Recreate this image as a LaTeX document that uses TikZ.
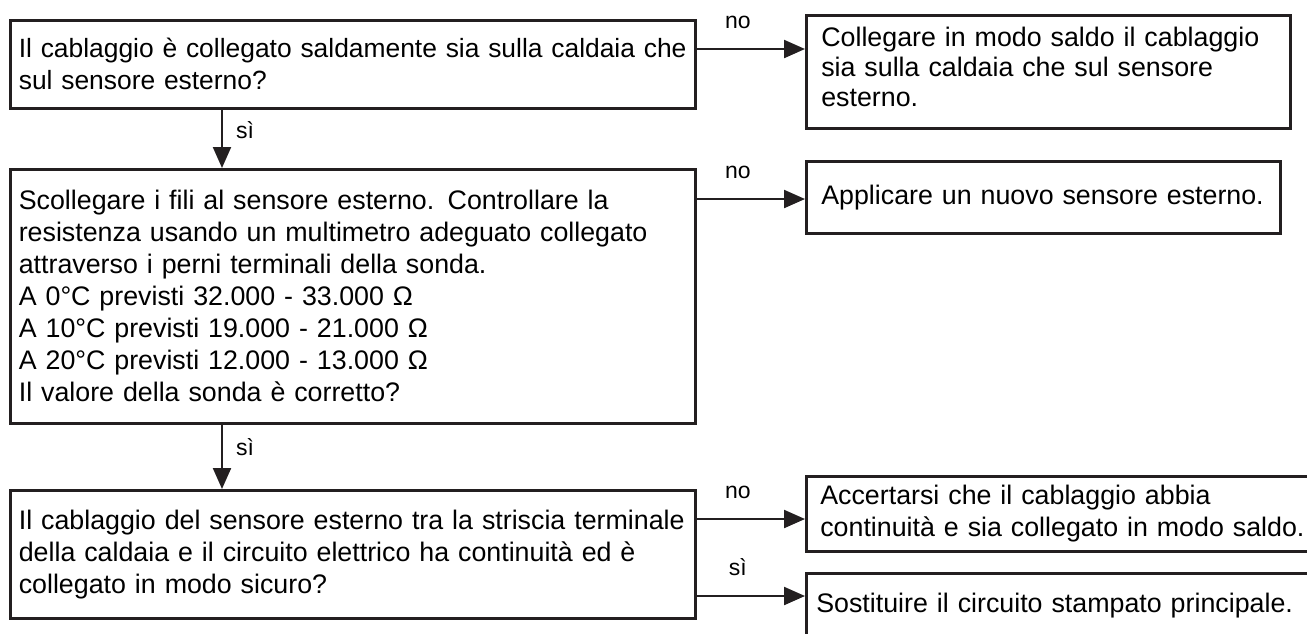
\documentclass[tikz,border=0pt]{standalone}
\usepackage{fontspec}
\setmainfont{Liberation Sans}
\usepackage{xcolor}
\usetikzlibrary{arrows.meta}
\definecolor{nero}{HTML}{231F20}
\tikzset{
  box/.style={draw=nero, line width=1.3pt, anchor=north west, align=left,
    inner ysep=0pt, text=black, font=\fontsize{13.4}{16}\selectfont},
  freccia/.style={draw=nero, line width=1.1pt, -{Triangle[length=10.5pt,width=9pt]}},
  etich/.style={inner sep=0pt, text=black, font=\fontsize{11.5}{13}\selectfont},
}
\begin{document}
\begin{tikzpicture}[x=0.5pt, y=-0.5pt]
    \useasboundingbox (0,0) rectangle (1307,633);
    \clip (0,0) rectangle (1307,633);
    % domande a sinistra
    \node[box, inner xsep=4.25pt, text width=334pt, minimum height=44pt,
        font=\fontsize{13.2}{16}\selectfont] (b1) at (9,19)
        {\mbox{Il cablaggio è collegato saldamente sia sulla caldaia che}\\sul sensore esterno?};
    \node[box, inner xsep=4.25pt, text width=334pt, minimum height=127pt] (b2) at (9,168)
        {Scollegare i fili al sensore esterno. Controllare la\\
         resistenza usando un multimetro adeguato collegato\\
         attraverso i perni terminali della sonda.\\
         A 0°C previsti 32.000 - 33.000 Ω\\
         A 10°C previsti 19.000 - 21.000 Ω\\
         A 20°C previsti 12.000 - 13.000 Ω\\
         Il valore della sonda è corretto?};
    \node[box, inner xsep=4.25pt, text width=334pt, minimum height=64pt] (b3) at (9,489)
        {\mbox{Il cablaggio del sensore esterno tra la striscia terminale}\\
         della caldaia e il circuito elettrico ha continuità ed è\\
         collegato in modo sicuro?};
    % azioni a destra
    \node[box, inner xsep=7.5pt, text width=227pt, minimum height=56.5pt,
        font=\fontsize{13.4}{15}\selectfont] (r1) at (805,14)
        {Collegare in modo saldo il cablaggio\\sia sulla caldaia che sul sensore\\esterno.\rule[-5pt]{0pt}{5pt}};
    \node[box, inner xsep=7.5pt, text width=222pt, minimum height=36pt] (r2) at (805,160)
        {Applicare un nuovo sensore esterno.};
    \node[box, inner xsep=7pt, text width=241pt, minimum height=37.5pt] (r3) at (805,475)
        {Accertarsi che il cablaggio abbia\\\mbox{continuità e sia collegato in modo saldo.}};
    \node[box, inner xsep=5pt, text width=245pt, minimum height=32pt] (r4) at (805,572)
        {\mbox{Sostituire il circuito stampato principale.}};
    % frecce orizzontali
    \draw[freccia] ([yshift=-15pt]b1.north east) -- ([yshift=-15pt]b1.north east -| r1.west)
        node[etich, pos=0.38, above=9.5pt] {no};
    \draw[freccia] ([yshift=-15.5pt]b2.north east) -- ([yshift=-15.5pt]b2.north east -| r2.west)
        node[etich, pos=0.38, above=9.5pt] {no};
    \draw[freccia] ([yshift=-15pt]b3.north east) -- ([yshift=-15pt]b3.north east -| r3.west)
        node[etich, pos=0.38, above=9.5pt] {no};
    \draw[freccia] ([yshift=-53.5pt]b3.north east) -- ([yshift=-53.5pt]b3.north east -| r4.west)
        node[etich, pos=0.38, above=9.5pt] {sì};
    % frecce verticali
    \draw[freccia] ([xshift=106.5pt]b1.south west) -- ([xshift=106.5pt]b1.south west |- b2.north)
        node[etich, pos=0.35, right=6.5pt] {sì};
    \draw[freccia] ([xshift=106.5pt]b2.south west) -- ([xshift=106.5pt]b2.south west |- b3.north)
        node[etich, pos=0.35, right=6.5pt] {sì};
\end{tikzpicture}
\end{document}
